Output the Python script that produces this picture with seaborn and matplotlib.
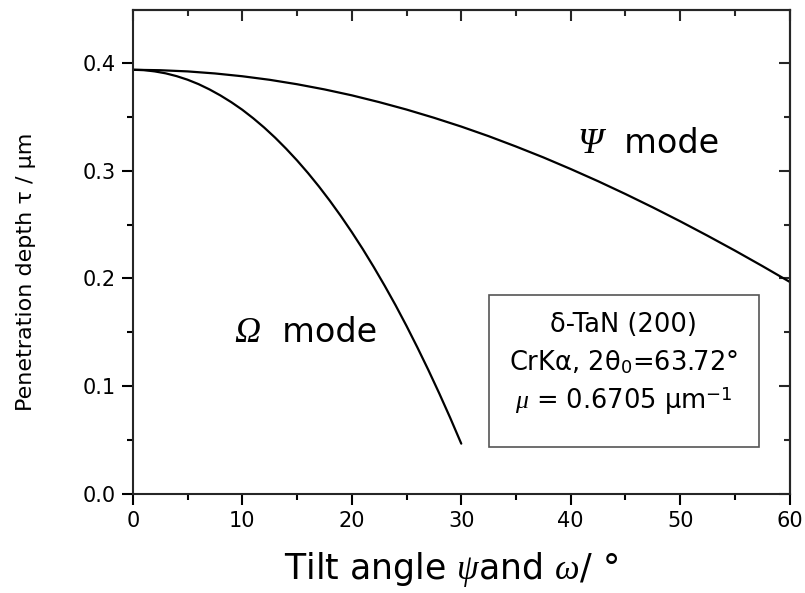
import matplotlib
matplotlib.use("Agg")
import matplotlib.pyplot as plt
import matplotlib.patches as mpatches
from matplotlib.ticker import MultipleLocator
import numpy as np
import pandas as pd
import seaborn as sns

# Psi mode: penetration depth vs tilt angle psi (deg)
psi_angle = [0, 2.5, 5, 7.5, 10, 12.5, 15, 17.5, 20, 22.5, 25, 27.5, 30,
             32.5, 35, 37.5, 40, 42.5, 45, 47.5, 50, 52.5, 55, 57.5, 60]
psi_depth = [0.3936, 0.3932, 0.3921, 0.3902, 0.3876, 0.3843, 0.3802, 0.3754,
             0.3699, 0.3636, 0.3567, 0.3491, 0.3409, 0.3320, 0.3224, 0.3123,
             0.3015, 0.2902, 0.2783, 0.2659, 0.2530, 0.2396, 0.2258, 0.2115,
             0.1968]

# Omega mode: penetration depth vs tilt angle omega (deg)
omega_angle = [0, 1, 2, 3, 4, 5, 6, 7, 8, 9, 10, 11, 12, 13, 14, 15, 16,
               17, 18, 19, 20, 21, 22, 23, 24, 25, 26, 27, 28, 29, 30]
omega_depth = [0.3936, 0.3933, 0.3921, 0.3903, 0.3877, 0.3844, 0.3803,
               0.3754, 0.3698, 0.3635, 0.3565, 0.3486, 0.3400, 0.3306,
               0.3204, 0.3095, 0.2978, 0.2853, 0.2720, 0.2579, 0.2430,
               0.2273, 0.2107, 0.1933, 0.1751, 0.1559, 0.1358, 0.1149,
               0.0931, 0.0704, 0.0467]

x_ticks = [0, 10, 20, 30, 40, 50, 60]
y_ticks = [0.0, 0.1, 0.2, 0.3, 0.4]

psi_df = pd.DataFrame({"angle": psi_angle, "depth": psi_depth})
omega_df = pd.DataFrame({"angle": omega_angle, "depth": omega_depth})

sns.set_style("ticks")
plt.rcParams["font.family"] = ["DejaVu Sans"]
plt.rcParams["mathtext.fontset"] = "custom"
plt.rcParams["mathtext.rm"] = "DejaVu Sans"
plt.rcParams["mathtext.it"] = "Liberation Serif:italic"
plt.rcParams["axes.linewidth"] = 1.5
plt.rcParams["text.color"] = "black"
plt.rcParams["axes.labelcolor"] = "black"

fig = plt.figure(figsize=(8.05, 5.93), dpi=100)
ax = fig.add_axes([0.165, 0.167, 0.816, 0.816])

sns.lineplot(data=psi_df, x="angle", y="depth", ax=ax, color="black",
             linewidth=1.6, sort=False)
sns.lineplot(data=omega_df, x="angle", y="depth", ax=ax, color="black",
             linewidth=1.6, sort=False)

ax.set_xlim(0, 60)
ax.set_ylim(0, 0.449)
ax.set_xticks(x_ticks)
ax.set_yticks(y_ticks)
ax.set_xticklabels([str(v) for v in x_ticks])
ax.set_yticklabels([f"{v:.1f}" for v in y_ticks])
ax.xaxis.set_minor_locator(MultipleLocator(5))
ax.yaxis.set_minor_locator(MultipleLocator(0.05))

for side in ["top", "right"]:
    ax.spines[side].set_visible(True)
ax.tick_params(which="both", direction="out", top=False, right=False,
               width=1.5, colors="black", labelsize=15)
ax.tick_params(which="major", length=8, pad=4)
ax.tick_params(which="minor", length=4)

# mirrored ticks on top and right, pointing inward
top = ax.secondary_xaxis("top")
top.set_xticks(x_ticks)
top.xaxis.set_minor_locator(MultipleLocator(5))
top.tick_params(which="both", direction="in", labeltop=False, width=1.5)
top.tick_params(which="major", length=8)
top.tick_params(which="minor", length=4)
right = ax.secondary_yaxis("right")
right.set_yticks(y_ticks)
right.yaxis.set_minor_locator(MultipleLocator(0.05))
right.tick_params(which="both", direction="in", labelright=False, width=1.5)
right.tick_params(which="major", length=8)
right.tick_params(which="minor", length=4)

ax.set_xlabel(r"Tilt angle $\psi$and $\omega$/ °", fontsize=25, labelpad=11)
ax.xaxis.set_label_coords(0.485, -0.115)
ax.set_ylabel("Penetration depth τ / μm", fontsize=16)
ax.yaxis.set_label_coords(-0.148, 0.46)

# curve labels: italic serif Greek capital followed by upright "mode"
greek_style = dict(family="Liberation Serif", style="italic", fontsize=26)
psi_sym = ax.text(40.6, 0.316, "Ψ", va="baseline", ha="left", **greek_style)
ax.annotate("  mode", xy=(1, 0.316), xycoords=(psi_sym, "data"),
            va="baseline", ha="left", fontsize=24)
omega_sym = ax.text(9.3, 0.141, "Ω", va="baseline", ha="left", **greek_style)
ax.annotate("  mode", xy=(1, 0.141), xycoords=(omega_sym, "data"),
            va="baseline", ha="left", fontsize=24)

box = mpatches.Rectangle((0.542, 0.097), 0.411, 0.314, transform=ax.transAxes,
                         fill=False, edgecolor="#555555", linewidth=1.2)
ax.add_patch(box)
ax.text(0.747, 0.349, "δ-TaN (200)", transform=ax.transAxes, fontsize=18.5,
        ha="center", va="center")
ax.text(0.747, 0.271, r"CrKα, 2θ$_0$=63.72°", transform=ax.transAxes,
        fontsize=18.5, ha="center", va="center")
ax.text(0.747, 0.192, r"$\mu$ = 0.6705 μm$^{-1}$", transform=ax.transAxes,
        fontsize=18.5, ha="center", va="center")

fig.savefig("out.png", dpi=100)
